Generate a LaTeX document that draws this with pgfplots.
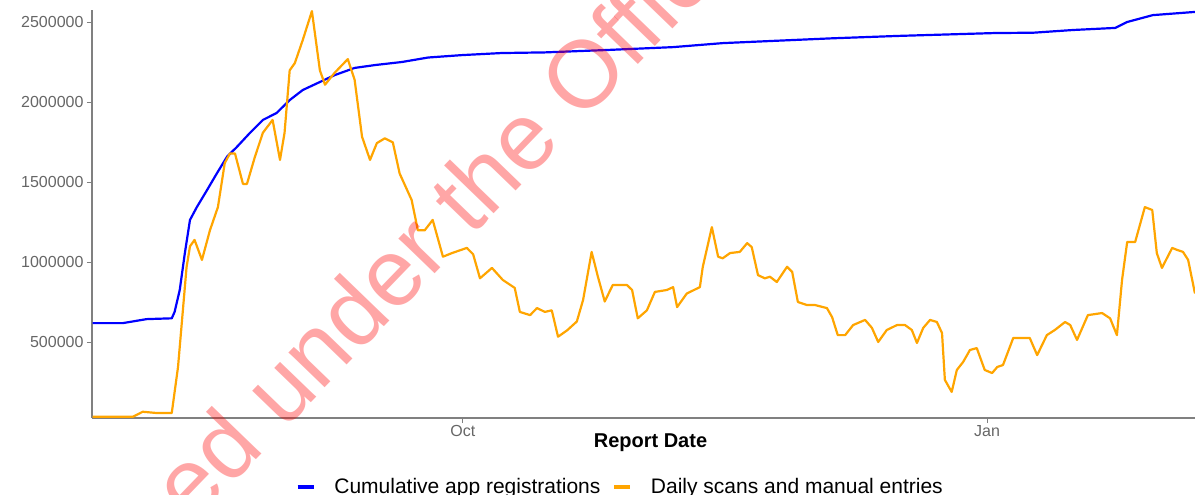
\documentclass[border=0pt]{standalone}
\usepackage{pgfplots}
\pgfplotsset{compat=1.18}
\usepackage{pgfplotstable}
\usepackage{fontspec}
\setmainfont{Liberation Sans}
\definecolor{appblue}{RGB}{0,0,255}
\definecolor{scanorange}{RGB}{255,165,0}

% day = days relative to 1 October 2020
\pgfplotstableread{
day value
-65.0 620000
-59.7 620000
-55.5 645000
-51.1 650000
-50.6 690000
-49.7 827000
-48.8 1058000
-47.9 1265000
-46.7 1345000
-44.9 1452000
-43.2 1555000
-41.4 1660000
-39.7 1720000
-37.4 1808000
-35.1 1890000
-32.7 1933000
-30.4 2014000
-28.1 2077000
-25.1 2127000
-22.5 2170000
-19.0 2215000
-15.4 2233000
-10.7 2252000
-6.1 2280000
-0.2 2295000
6.8 2308000
14.4 2312000
25.3 2327000
36.9 2345000
45.6 2370000
53.9 2383000
64.8 2400000
76.4 2415000
93.4 2433000
100.1 2435000
107.1 2452000
114.5 2465000
116.6 2502000
121.1 2545000
128.5 2565000
}\registrations

\pgfplotstableread{
day value
-65.0 35000
-57.9 35000
-56.2 66000
-53.7 58000
-51.1 58000
-50.0 346000
-48.5 970000
-47.9 1100000
-47.1 1140000
-45.8 1015000
-44.4 1200000
-43.0 1345000
-41.8 1620000
-40.9 1680000
-40.0 1680000
-38.6 1490000
-37.9 1490000
-36.5 1660000
-35.1 1810000
-33.4 1890000
-32.1 1640000
-31.3 1810000
-30.4 2200000
-29.5 2245000
-28.1 2390000
-26.5 2570000
-25.1 2200000
-24.2 2110000
-22.5 2185000
-20.2 2270000
-19.0 2140000
-17.7 1785000
-16.3 1640000
-15.1 1745000
-13.7 1775000
-12.3 1750000
-11.1 1555000
-9.0 1390000
-7.9 1200000
-6.7 1200000
-5.3 1265000
-3.5 1035000
-1.9 1058000
0.7 1090000
1.8 1050000
3.0 900000
5.1 965000
7.0 890000
9.1 840000
10.0 690000
11.8 670000
13.0 714000
14.4 690000
15.6 700000
16.7 535000
18.3 575000
20.0 630000
21.1 765000
22.6 1065000
23.7 910000
24.9 755000
26.3 858000
28.8 858000
29.7 827000
30.7 650000
32.3 700000
33.7 815000
35.8 827000
36.9 845000
37.6 720000
39.3 805000
41.6 845000
42.1 970000
43.7 1220000
44.8 1035000
45.6 1025000
46.9 1058000
48.6 1065000
49.9 1120000
50.7 1095000
51.8 920000
53.0 900000
53.9 910000
55.1 877000
56.9 972000
57.8 940000
58.8 752000
60.4 733000
61.8 733000
63.9 714000
64.8 658000
65.8 545000
67.1 545000
68.5 608000
70.6 640000
71.8 590000
72.9 502000
74.4 577000
76.2 608000
77.6 608000
78.8 577000
79.7 496000
80.8 590000
82.0 640000
83.2 627000
84.1 558000
84.6 265000
85.8 190000
86.7 327000
87.8 377000
89.0 452000
90.2 464000
91.6 327000
92.9 308000
93.8 346000
94.8 358000
96.6 527000
99.5 527000
100.8 420000
102.5 545000
103.9 577000
105.7 627000
106.6 608000
107.8 515000
109.7 670000
112.2 683000
113.6 650000
114.8 545000
115.7 890000
116.6 1127000
118.0 1127000
119.7 1345000
121.0 1327000
121.8 1058000
122.7 965000
124.5 1090000
125.4 1077000
126.4 1065000
127.3 1015000
128.5 805000
}\scans

\begin{document}
\begin{tikzpicture}
\path[use as bounding box] (-92pt,-77pt) rectangle (1103pt,418pt);
\begin{axis}[
  at={(0pt,0pt)}, anchor=south west,
  width=1103pt, height=408pt, scale only axis,
  xmin=-65.1, xmax=128.5, ymin=27000, ymax=2577000,
  axis lines*=left,
  axis line style={-, draw=black!50, line width=1.1pt},
  xtick={0,92}, xticklabels={Oct,Jan},
  ytick={500000,1000000,1500000,2000000,2500000},
  scaled y ticks=false,
  yticklabel style={/pgf/number format/fixed, /pgf/number format/1000 sep={}},
  /pgf/number format/assume math mode=true,
  tick align=outside, major tick length=5pt,
  tick style={draw=black!50, line width=1pt},
  ticklabel style={font=\fontsize{16}{19}\selectfont, text=black!60},
  xticklabel style={yshift=1pt},
  xlabel={Report Date},
  xlabel style={font=\bfseries\fontsize{20}{23}\selectfont, at={(axis description cs:0.5,0)}, anchor=center, yshift=-25pt, xshift=7pt},
  legend style={at={(axis description cs:0.479,-0.169)}, anchor=center,
    legend columns=2, draw=none, fill=none,
    font=\fontsize{21}{25}\selectfont,
    /tikz/every even column/.append style={column sep=10pt},
    /tikz/every odd column/.append style={column sep=17pt}},
  legend image code/.code={\draw[#1, line width=3.5pt] (0pt,0pt) -- (16pt,0pt);},
  every axis plot/.append style={line width=2.2pt, line join=round},
]
\addplot[appblue, no markers] table[x=day, y=value] {\registrations};
\addlegendentry{Cumulative app registrations}
\addplot[scanorange, no markers] table[x=day, y=value] {\scans};
\addlegendentry{Daily scans and manual entries}
\end{axis}
\node[rotate=46, anchor=base west, text=red, text opacity=0.35,
  font=\fontsize{95}{110}\selectfont, inner sep=0pt]
  at (-105pt,-320.7pt) {Released under the Official Information Act 1982};
\end{tikzpicture}
\end{document}
